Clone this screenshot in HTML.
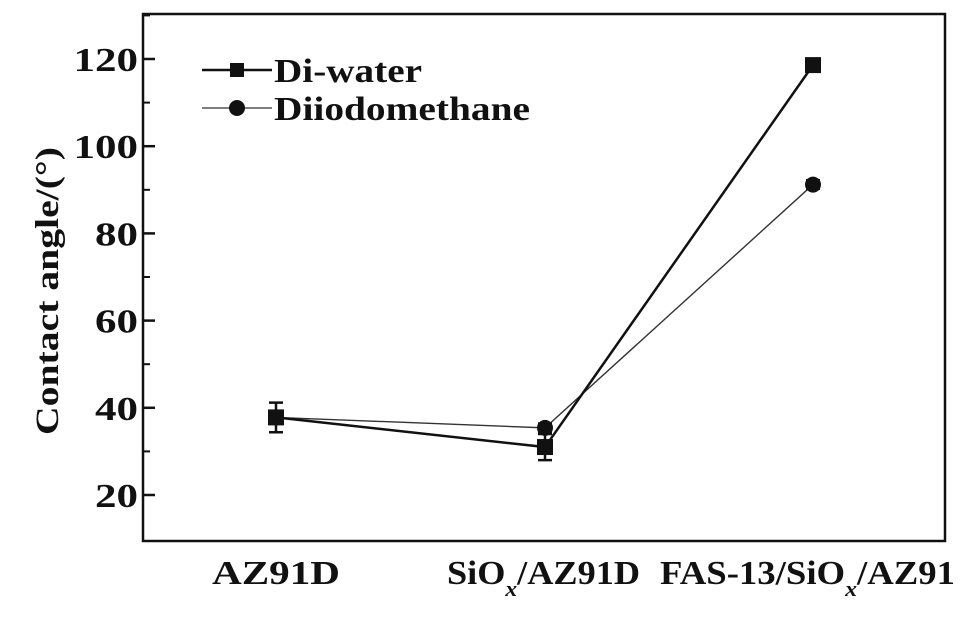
<!DOCTYPE html>
<html><head><meta charset="utf-8"><style>
body{margin:0;background:#fff;}
svg{display:block;font-family:"Liberation Serif",serif;}
</style></head><body>
<svg id="chart" width="970" height="619">
<rect x="143" y="14" width="802" height="527" fill="none" stroke="#111" stroke-width="2.5"/>
<g id="yticks"></g>
<g id="xlabels"></g>
<g id="series"></g>
<text transform="translate(58,291) rotate(-90)" text-anchor="middle" font-size="33" font-weight="bold" fill="#111" textLength="288" lengthAdjust="spacingAndGlyphs">Contact angle/(°)</text>
<g>
  <g>
    <line x1="202" y1="70" x2="272" y2="70" stroke="#111" stroke-width="2.5"/>
    <rect x="230" y="63" width="14" height="14" fill="#111"/>
    <text x="274" y="82" font-size="34" font-weight="bold" fill="#111" textLength="148" lengthAdjust="spacingAndGlyphs">Di-water</text>
  </g>
  <g>
    <line x1="202" y1="108" x2="272" y2="108" stroke="#333" stroke-width="1.3"/>
    <circle cx="237" cy="108" r="8" fill="#111"/>
    <text x="274" y="120" font-size="34" font-weight="bold" fill="#111" textLength="256" lengthAdjust="spacingAndGlyphs">Diiodomethane</text>
  </g>
</g>
</svg>
<script>
const categories = ["AZ91D", "SiOx/AZ91D", "FAS-13/SiOx/AZ91"];
const waterValues = [37.8, 31.0, 118.6];
const waterErrors = [3.4, 3.0, 1.0];
const diiodoValues = [37.8, 35.4, 91.2];
const diiodoErrors = [1.0, 1.0, 1.0];
const yTicks = [20, 40, 60, 80, 100, 120];

const ns = "http://www.w3.org/2000/svg";
function yScale(v){ return 495 - (v - 20) * 4.36; }
const catX = [276, 545, 813];
function xScale(i){ return catX[i]; }
function mk(tag, attrs, parent){ const e = document.createElementNS(ns, tag); for (const k in attrs) e.setAttribute(k, attrs[k]); parent.appendChild(e); return e; }

const yt = document.getElementById("yticks");
yTicks.forEach((t, i) => {
  const y = yScale(t);
  const l = mk("line", {x1:143, x2:155, y1:y, y2:y, stroke:"#111", "stroke-width":2.5}, yt);
  
  
  const m = mk("line", {x1:143, x2:150, y1:yScale(t+10), y2:yScale(t+10), stroke:"#111", "stroke-width":2}, yt);
  
  
  const s = String(t);
  const w = s.length * 21.5;
  const tx = mk("text", {x:138 - w, y:y+12, "font-size":34, "font-weight":"bold", fill:"#111", textLength:w, lengthAdjust:"spacingAndGlyphs"}, yt);
  tx.textContent = s;
  
  
});

const xl = document.getElementById("xlabels");
const lblX = [212, 447, 660];
const lblW = [128, 193, 295];
const labelHtml = [
  'AZ91D',
  'SiO<tspan font-size="22" font-style="italic" dy="12">x</tspan><tspan dy="-12">/AZ91D</tspan>',
  'FAS-13/SiO<tspan font-size="22" font-style="italic" dy="12">x</tspan><tspan dy="-12">/AZ91</tspan>'
];
categories.forEach((c, i) => {
  const t = mk("text", {x:lblX[i], y:584, "font-size":34, "font-weight":"bold", fill:"#111", textLength:lblW[i], lengthAdjust:"spacingAndGlyphs"}, xl);
  t.innerHTML = labelHtml[i];
  
  
});

const sg = document.getElementById("series");
function drawSeries(vals, errs, width, color, shape, name){
  const g = mk("g", {}, sg);
  
  
  const pts = vals.map((v, i) => xScale(i) + "," + yScale(v)).join(" ");
  const pl = mk("polyline", {points:pts, fill:"none", stroke:color, "stroke-width":width}, g);
  
  
  vals.forEach((v, i) => {
    const x = xScale(i), y = yScale(v), e = errs[i];
    const eb = mk("path", {d:`M${x},${yScale(v+e)}V${yScale(v-e)}M${x-7},${yScale(v+e)}H${x+7}M${x-7},${yScale(v-e)}H${x+7}`, stroke:"#111", "stroke-width":2.5, fill:"none"}, g);
    
    
    let m;
    if (shape === "square") m = mk("rect", {x:x-8, y:y-8, width:16, height:16, fill:"#111"}, g);
    else m = mk("circle", {cx:x, cy:y, r:8, fill:"#111"}, g);
    
    
  });
}
drawSeries(diiodoValues, diiodoErrors, 1.4, "#333", "circle", "diiodomethane-series");
drawSeries(waterValues, waterErrors, 2.5, "#111", "square", "di-water-series");
</script>
</body></html>
